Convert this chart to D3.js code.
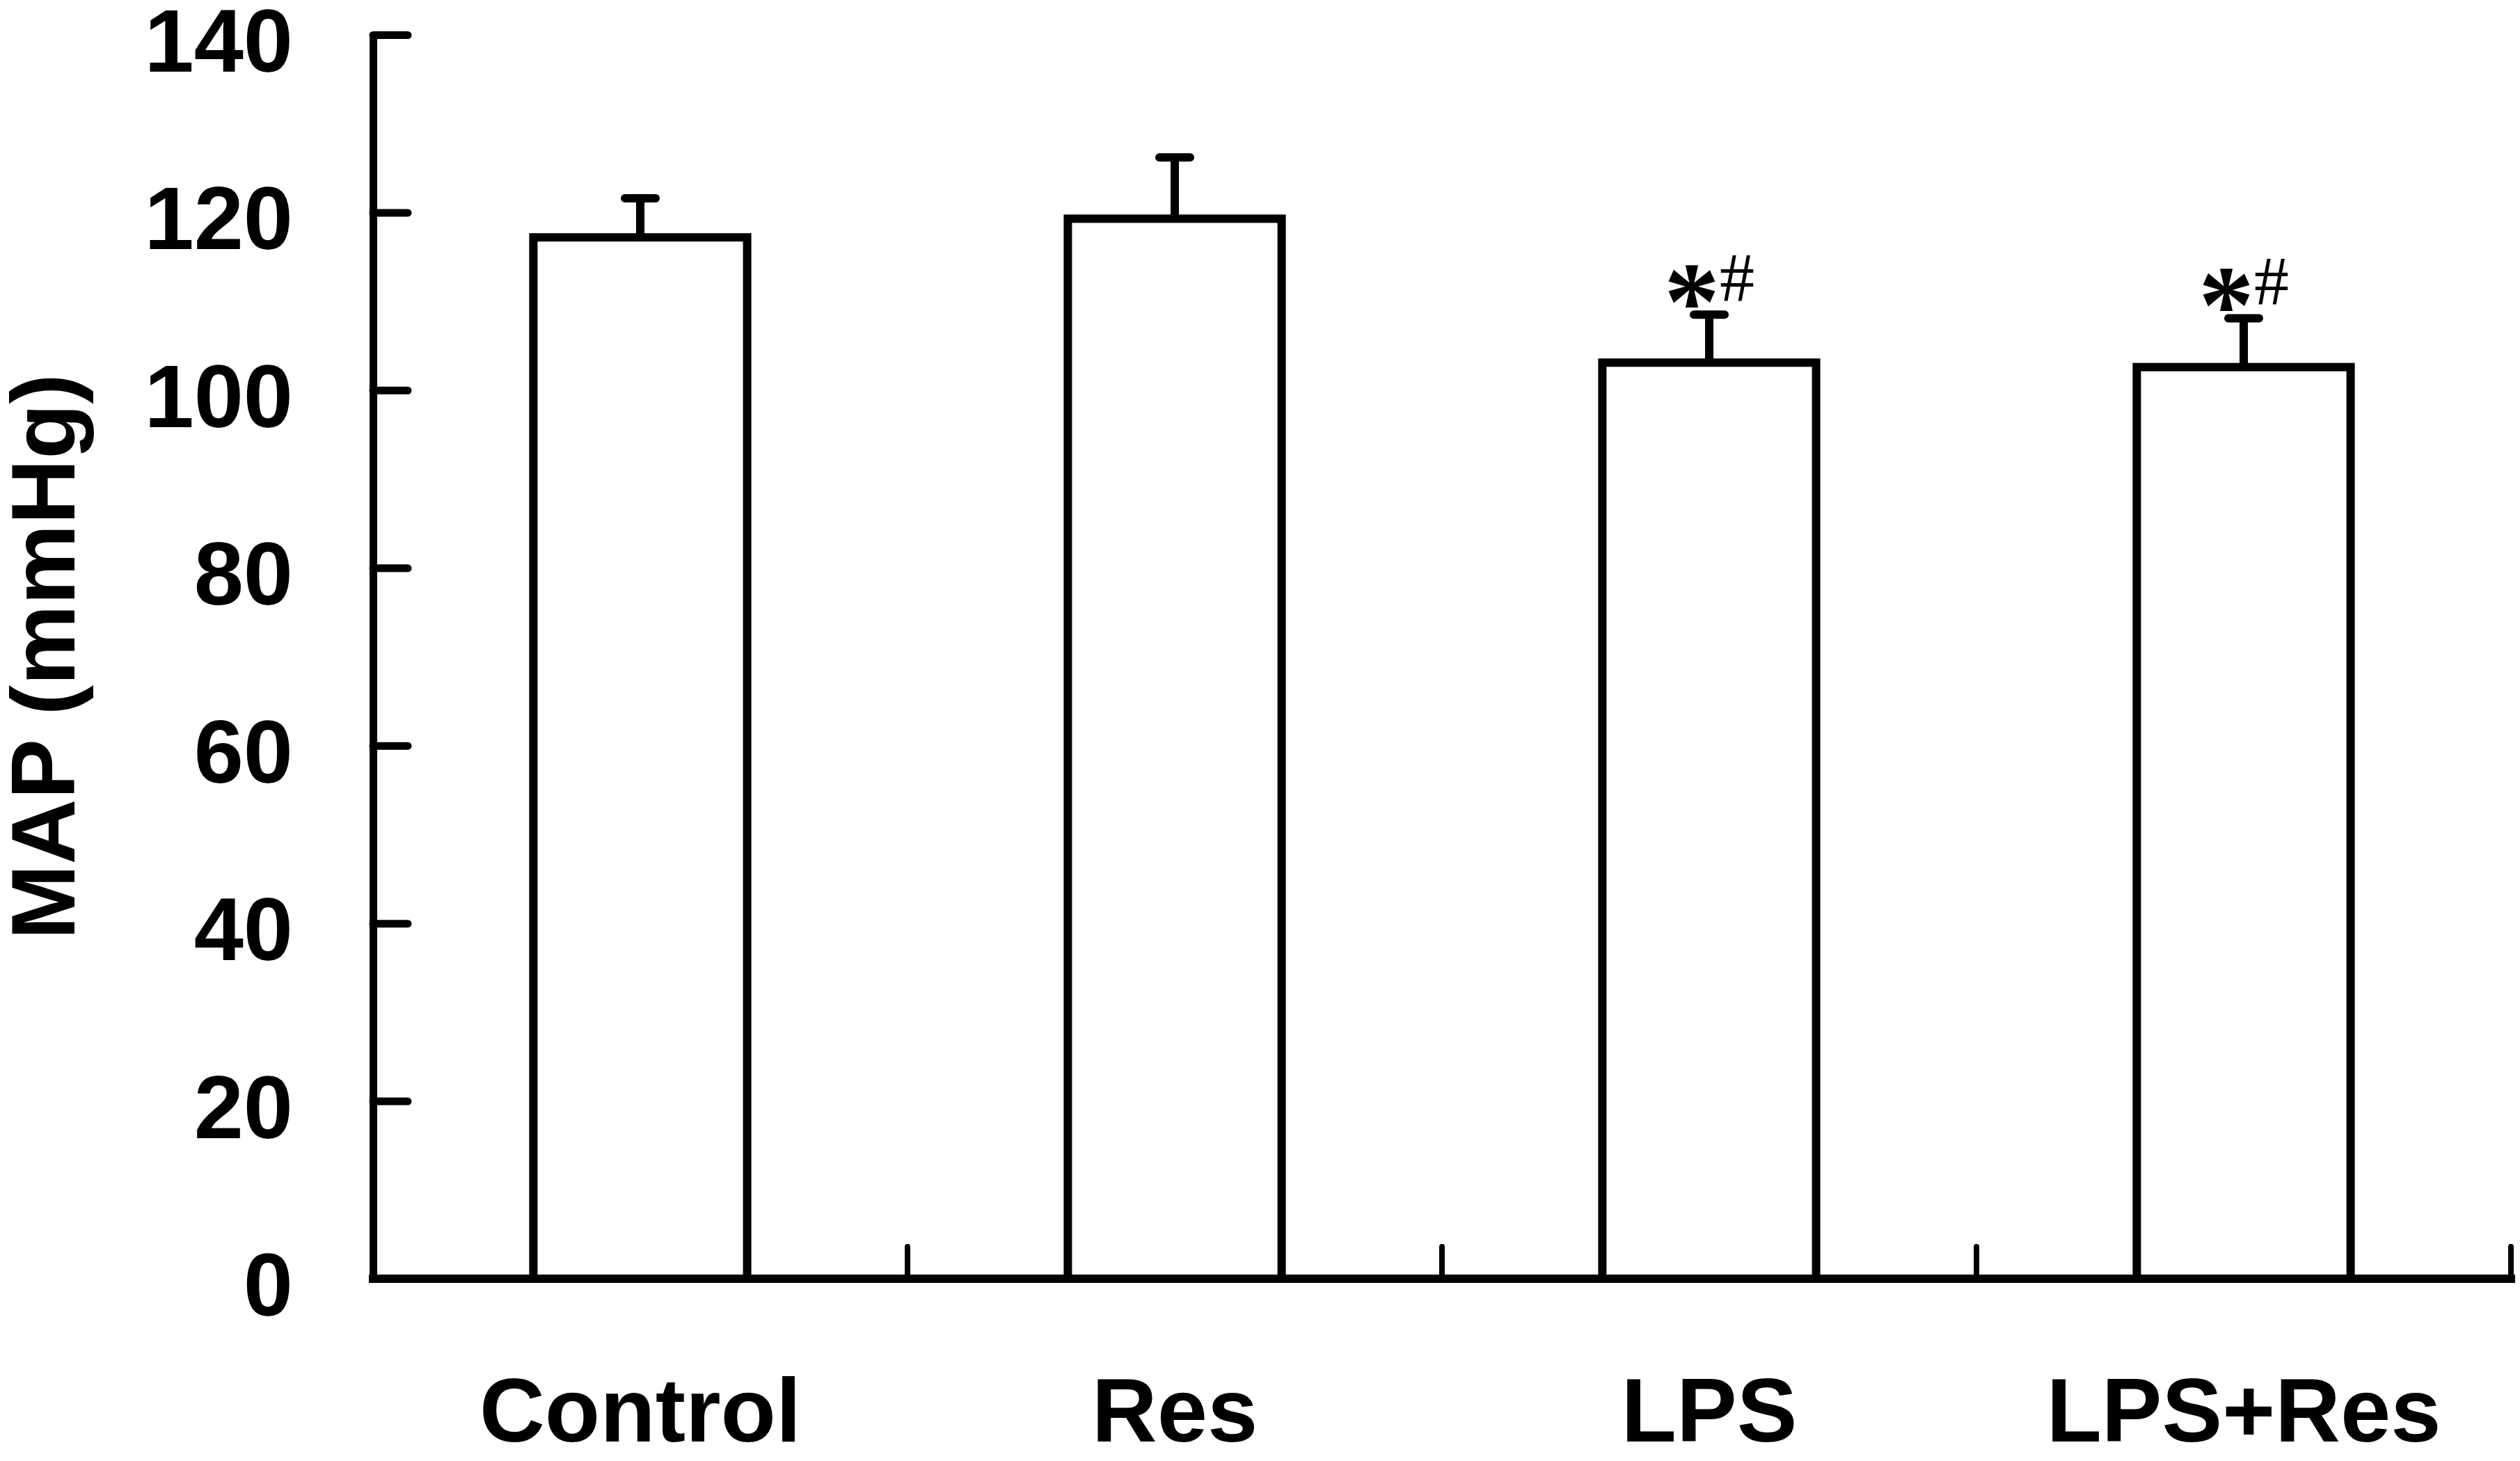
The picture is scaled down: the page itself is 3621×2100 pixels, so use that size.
<!DOCTYPE html>
<html>
<head>
<meta charset="utf-8">
<script src="https://cdn.jsdelivr.net/npm/d3@7"></script>
<style>
body { margin: 0; background: #fff; }
text { font-family: "Liberation Sans", Arial, sans-serif; font-weight: bold; fill: #000; }
</style>
</head>
<body>
<div id="chart"></div>
<script>
var groups = ["Control", "Res", "LPS", "LPS+Res"];
var meanMAP = [117.2, 119.3, 103.1, 102.6];
var semMAP = [4.4, 6.9, 5.4, 5.5];
var marks = ["", "", "*#", "*#"];
var yTicks = [0, 20, 40, 60, 80, 100, 120, 140];

function draw() {
    var W = 3621, H = 2100;
    var left = 536, right = 3608, top = 50, bottom = 1838;

    var svg = d3.select("#chart").append("svg")
        .attr("width", W).attr("height", H)
        .style("background", "#fff");

    var x = d3.scaleBand().domain(groups).range([left, right])
        .paddingInner(0.6).paddingOuter(0.3);
    var y = d3.scaleLinear().domain([0, 140]).range([bottom, top]);

    var data = groups.map((g, i) => ({ g: g, m: meanMAP[i], e: semMAP[i], mark: marks[i] }));

    // y axis, ticks pointing inward
    var yAxis = d3.axisLeft(y).tickValues(yTicks).tickSize(-50).tickPadding(115).tickSizeOuter(0);
    var ya = svg.append("g").attr("transform", "translate(536,0)").call(yAxis);
    ya.select(".domain").attr("stroke", "#000").attr("stroke-width", 11);
    ya.selectAll(".tick line").attr("stroke", "#000").attr("stroke-width", 11).attr("stroke-linecap", "round");
    ya.selectAll(".tick text").attr("font-size", 128).attr("dy", "0.41em")
        .attr("font-family", "Liberation Sans, Arial, sans-serif")
        .attr("font-weight", "bold").attr("fill", "#000");

    // bars
    svg.selectAll("rect.bar").data(data).enter().append("rect")
        .attr("class", "bar")
        .attr("x", d => x(d.g))
        .attr("width", x.bandwidth())
        .attr("y", d => y(d.m))
        .attr("height", d => y(0) - y(d.m))
        .attr("fill", "#fff").attr("stroke", "#000").attr("stroke-width", 12);

    // error bars (upper only)
    svg.selectAll("line.err").data(data).enter().append("line")
        .attr("class", "err")
        .attr("x1", d => x(d.g) + x.bandwidth() / 2).attr("x2", d => x(d.g) + x.bandwidth() / 2)
        .attr("y1", d => y(d.m)).attr("y2", d => y(d.m + d.e))
        .attr("stroke", "#000").attr("stroke-width", 12);
    svg.selectAll("line.cap").data(data).enter().append("line")
        .attr("class", "cap")
        .attr("x1", d => x(d.g) + x.bandwidth() / 2 - 22).attr("x2", d => x(d.g) + x.bandwidth() / 2 + 22)
        .attr("y1", d => y(d.m + d.e)).attr("y2", d => y(d.m + d.e))
        .attr("stroke", "#000").attr("stroke-width", 12).attr("stroke-linecap", "round");

    // significance marks
    var mk = svg.selectAll("text.mark").data(data.filter(d => d.mark)).enter().append("text")
        .attr("class", "mark")
        .attr("x", d => x(d.g) + x.bandwidth() / 2)
        .attr("y", d => y(d.m + d.e) - 20)
        .attr("text-anchor", "middle")
        .style("font-family", "'Liberation Serif', 'Times New Roman', serif")
        .style("font-weight", "normal");
    mk.append("tspan").attr("font-size", 160).attr("dy", 56).style("font-weight", "bold").text(d => d.mark[0]);
    mk.append("tspan").attr("font-size", 100).attr("dy", -56).text(d => d.mark[1]);

    // x axis line and category separators
    svg.append("line").attr("x1", left).attr("x2", right).attr("y1", bottom).attr("y2", bottom)
        .attr("stroke", "#000").attr("stroke-width", 12).attr("stroke-linecap", "square");
    var step = x.step(), pi = x.paddingInner();
    svg.selectAll("line.sep").data(groups).enter().append("line")
        .attr("class", "sep")
        .attr("x1", d => x(d) + x.bandwidth() + step * pi / 2)
        .attr("x2", d => x(d) + x.bandwidth() + step * pi / 2)
        .attr("y1", bottom).attr("y2", bottom - 46)
        .attr("stroke", "#000").attr("stroke-width", 8).attr("stroke-linecap", "round");

    // category labels
    svg.selectAll("text.cat").data(groups).enter().append("text")
        .attr("class", "cat")
        .attr("x", d => x(d) + x.bandwidth() / 2)
        .attr("y", 2072)
        .attr("text-anchor", "middle")
        .attr("font-size", 130)
        .text(d => d);

    // y title
    svg.append("text")
        .attr("transform", "translate(107,944) rotate(-90)")
        .attr("text-anchor", "middle")
        .attr("font-size", 130)
        .text("MAP (mmHg)");
}

document.addEventListener("DOMContentLoaded", draw);
</script>
</body>
</html>
